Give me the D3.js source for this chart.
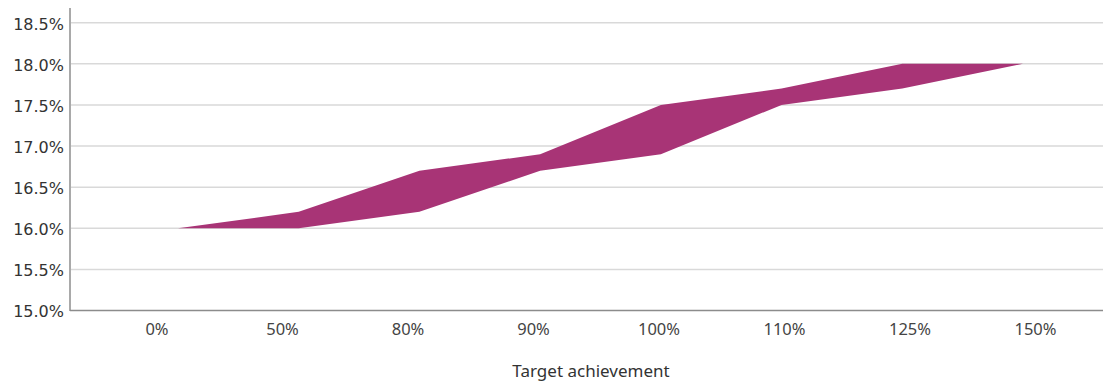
<!DOCTYPE html>
<html>
<head>
<meta charset="utf-8">
<script src="https://cdn.jsdelivr.net/npm/d3@7"></script>
<style>
  html, body { margin: 0; padding: 0; background: #fff; }
  svg { display: block; }
</style>
</head>
<body>
<svg id="chart" width="1103" height="387"></svg>
<script>
// Target achievement levels on the x axis
const categories = ["0%", "50%", "80%", "90%", "100%", "110%", "125%", "150%"];
// Upper and lower edge of the band (percent)
const upperValues = [16.0, 16.2, 16.7, 16.9, 17.5, 17.7, 18.0, 18.0];
const lowerValues = [16.0, 16.0, 16.2, 16.7, 16.9, 17.5, 17.7, 18.0];
// Y axis ticks (percent)
const yTicks = [15.0, 15.5, 16.0, 16.5, 17.0, 17.5, 18.0, 18.5];
const xTitle = "Target achievement";

const W = 1103, H = 387;
const plot = { left: 70, right: 1103, top: 22.7, bottom: 310.5 };

const svg = d3.select("#chart");

const y = d3.scaleLinear().domain([15, 18.5]).range([plot.bottom, plot.top]);

// Category bands for the tick labels
const xBand = d3.scaleBand().domain(categories).range([94.25, 1098.25]);
// Point positions used by the band area
const xPoint = d3.scalePoint().domain(categories).range([178, 1023]);

// Horizontal gridlines
svg.append("g")
  .selectAll("line")
  .data(yTicks.filter(d => d > 15))
  .join("line")
  .attr("x1", plot.left + 1)
  .attr("x2", plot.right)
  .attr("y1", d => y(d))
  .attr("y2", d => y(d))
  .attr("stroke", "#d9d9d9")
  .attr("stroke-width", 1.5);

// Band area
const rows = categories.map((c, i) => ({ c, hi: upperValues[i], lo: lowerValues[i] }));
const area = d3.area()
  .x(d => xPoint(d.c))
  .y0(d => y(d.lo))
  .y1(d => y(d.hi));

svg.append("path")
  .datum(rows)
  .attr("d", area)
  .attr("fill", "#a83476");

// Y axis
const yAxis = d3.axisLeft(y)
  .tickValues(yTicks)
  .tickFormat(d => d3.format(".1f")(d) + "%")
  .tickSize(0)
  .tickPadding(6);

const gy = svg.append("g")
  .attr("transform", `translate(${plot.left},0)`)
  .call(yAxis);
gy.select(".domain").remove();
gy.selectAll("text")
  .attr("font-family", "DejaVu Sans, Verdana, sans-serif")
  .attr("font-size", 16)
  .attr("fill", "#333")
  .attr("dy", "0.4em");

svg.append("line")
  .attr("x1", plot.left).attr("x2", plot.left)
  .attr("y1", 8).attr("y2", plot.bottom + 0.5)
  .attr("stroke", "#8c8c8c")
  .attr("stroke-width", 1.5);

// X axis
const xAxis = d3.axisBottom(xBand).tickSize(0).tickPadding(10);
const gx = svg.append("g")
  .attr("transform", `translate(0,${plot.bottom})`)
  .call(xAxis);
gx.select(".domain").remove();
gx.selectAll("text")
  .attr("font-family", "Noto Sans, Open Sans, sans-serif")
  .attr("font-size", 16.5)
  .attr("fill", "#444")
  .attr("dy", "0.85em");

svg.append("line")
  .attr("x1", plot.left).attr("x2", plot.right)
  .attr("y1", plot.bottom).attr("y2", plot.bottom)
  .attr("stroke", "#8c8c8c")
  .attr("stroke-width", 1.5);

// X axis title
svg.append("text")
  .attr("x", 591)
  .attr("y", 377)
  .attr("text-anchor", "middle")
  .attr("font-family", "Noto Sans, Open Sans, sans-serif")
  .attr("font-size", 17)
  .attr("fill", "#333")
  .text(xTitle);
</script>
</body>
</html>
